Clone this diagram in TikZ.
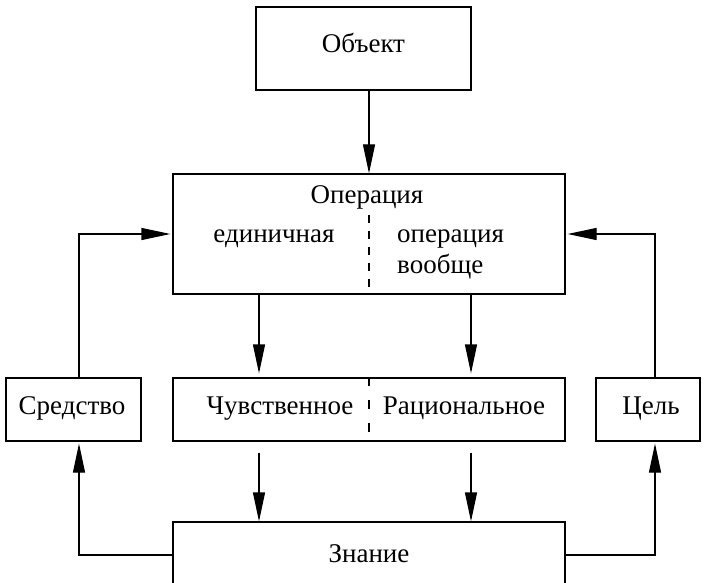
\documentclass[tikz,border=0pt]{standalone}
\usepackage{fontspec}
\setmainfont{Liberation Serif}
\usetikzlibrary{arrows.meta}
\begin{document}
\begin{tikzpicture}[x=1pt,y=-1pt,
 box/.style={draw,line width=1.2pt,inner sep=0pt},
 lbl/.style={inner sep=0pt,font=\fontsize{27}{32}\selectfont},
 arr/.style={line width=1.2pt,-{Triangle[length=29pt,width=12pt]}},
 dsh/.style={line width=1.2pt,dash pattern=on 8pt off 8pt},
 dshb/.style={line width=1.2pt,dash pattern=on 9pt off 14pt}]
\clip (0,0) rectangle (707,583);
% boxes
\node[box,minimum width=215pt,minimum height=83pt] (ob) at (363.5,48.5) {};
\node[lbl,anchor=base] (obt) at (363.5,53) {Объект};
\node[box,minimum width=392pt,minimum height=120pt] (op) at (369,234) {};
\node[lbl,anchor=base] (opt) at (367,203) {Операция};
\node[lbl,anchor=base] (ed) at (274,242) {единичная};
\node[lbl,anchor=base west] (og) at (397,242) {операция};
\node[lbl,anchor=base west] (vo) at (397,273) {вообще};
\node[box,minimum width=135pt,minimum height=63pt] (sr) at (73.5,409.5) {};
\node[lbl,anchor=base] (srt) at (72,414) {Средство};
\node[box,minimum width=392pt,minimum height=63pt] (mid) at (369,409.5) {};
\node[lbl,anchor=base] (ch) at (280,414) {Чувственное};
\node[lbl,anchor=base] (ra) at (464,414) {Рациональное};
\node[box,minimum width=104pt,minimum height=63pt] (ts) at (648,409.5) {};
\node[lbl,anchor=base] (tst) at (651,414) {Цель};
\node[box,minimum width=392pt,minimum height=80pt] (zn) at (369,562) {};
\node[lbl,anchor=base] (znt) at (369,562) {Знание};
% dashed dividers
\coordinate (d1) at (369,215);
\draw[dsh] (d1) -- (op.south);
\draw[dshb] (mid.north) -- (mid.south);
% helper coordinates
\coordinate (xa) at (259,0);
\coordinate (xb) at (471,0);
\coordinate (xl) at (79,0);
\coordinate (xr) at (655,0);
\coordinate (yu) at (0,234);
\coordinate (yd) at (0,555);
% arrows
\draw[arr] (ob.south -| op.north) -- (op.north);
\draw[arr,shorten >=4pt] (op.south -| xa) -- (mid.north -| xa);
\draw[arr,shorten >=4pt] (op.south -| xb) -- (mid.north -| xb);
\draw[arr,shorten <=11pt] (mid.south -| xa) -- (zn.north -| xa);
\draw[arr,shorten <=11pt] (mid.south -| xb) -- (zn.north -| xb);
\draw[arr,shorten >=2pt] (sr.north -| xl) -- (xl |- yu) -- (op.west |- yu);
\draw[arr,shorten >=2pt] (ts.north -| xr) -- (xr |- yu) -- (op.east |- yu);
\draw[arr,shorten >=2pt] (zn.west |- yd) -- (xl |- yd) -- (sr.south -| xl);
\draw[arr,shorten >=2pt] (zn.east |- yd) -- (xr |- yd) -- (ts.south -| xr);
\end{tikzpicture}
\end{document}
